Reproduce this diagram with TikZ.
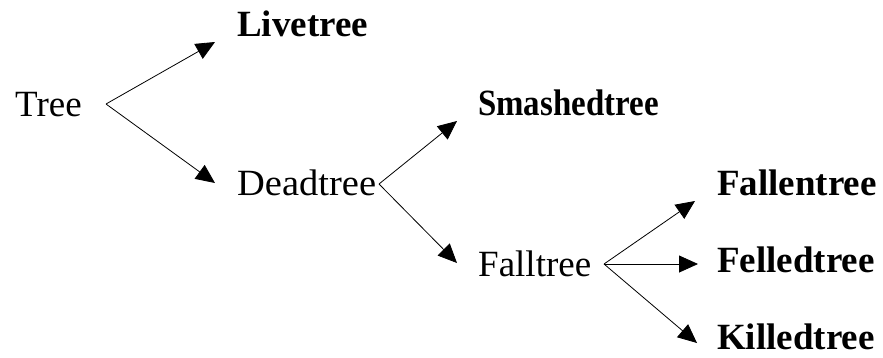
\documentclass[tikz,border=0pt]{standalone}
\usepackage{fontspec}
\setmainfont{Liberation Serif}
\usetikzlibrary{arrows.meta}
\begin{document}
\begin{tikzpicture}[x=1pt,y=-1pt,
  lbl/.style={anchor=base west,inner sep=0pt,font=\fontsize{37}{40}\selectfont},
  blbl/.style={lbl,font=\fontsize{37}{40}\selectfont\bfseries},
  arr/.style={line width=0.8pt,-{Triangle[length=19pt,width=17pt]}}]
\useasboundingbox (0,0) rectangle (883,357);
\node[lbl] (tree) at (15,116) {Tree};
\node[blbl] (live) at (237,36) {Livetree};
\node[lbl,xscale=1.04] (dead) at (237,195) {Deadtree};
\node[blbl,xscale=0.89] (smash) at (478,115) {Smashedtree};
\node[lbl] (fall) at (478,276) {Falltree};
\node[blbl] (fallen) at (717,195) {Fallentree};
\node[blbl] (felled) at (717,272) {Felledtree};
\node[blbl] (killed) at (717,349) {Killedtree};
\coordinate (f1) at (106,104);
\coordinate (f2) at (379,184);
\coordinate (f3) at (604,264);
\coordinate (t1) at (215,42);
\coordinate (t2) at (215,183);
\coordinate (t3) at (457,121);
\coordinate (t4) at (457,263);
\coordinate (t5) at (695,201);
\coordinate (t6) at (698,264);
\coordinate (t7) at (697,343);
\draw[arr] (f1) -- (t1);
\draw[arr] (f1) -- (t2);
\draw[arr] (f2) -- (t3);
\draw[arr] (f2) -- (t4);
\draw[arr] (f3) -- (t5);
\draw[arr] (f3) -- (t6);
\draw[arr] (f3) -- (t7);
\end{tikzpicture}
\end{document}
